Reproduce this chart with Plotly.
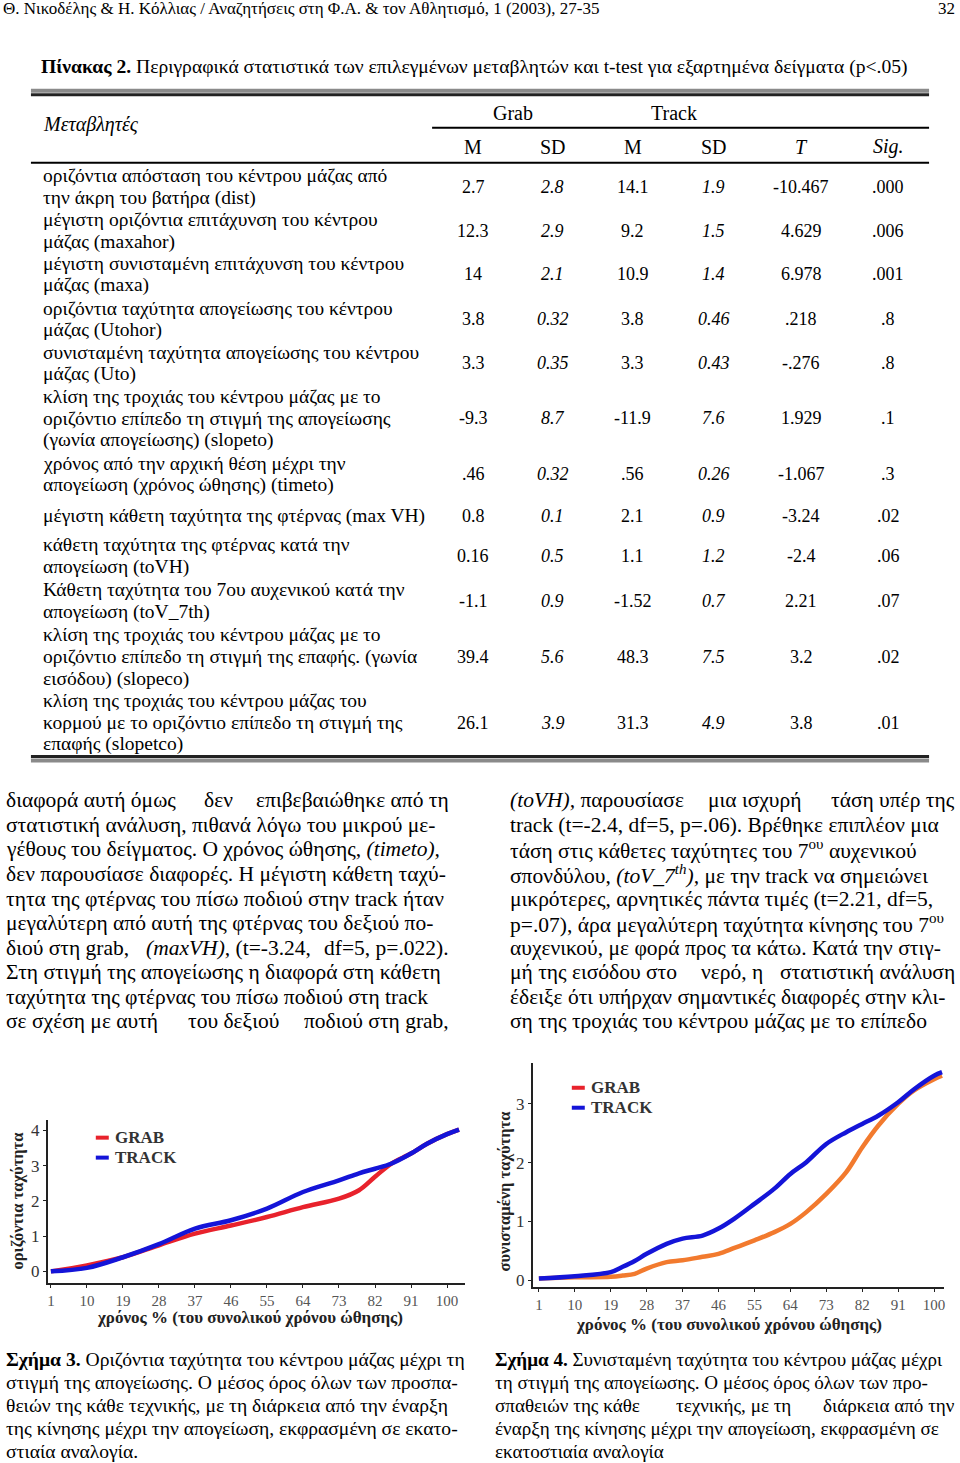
import re
import plotly.graph_objects as go

W, H = 960, 1463

# ---- data ----
pct = [1, 10, 19, 28, 37, 46, 55, 64, 73, 78, 82, 86, 91, 95, 100, 103]
hor_grab = [0.0, 0.17, 0.4, 0.74, 1.07, 1.3, 1.54, 1.82, 2.06, 2.3, 2.68, 3.05, 3.34, 3.62, 3.89, 4.02]
hor_track = [0.0, 0.1, 0.4, 0.77, 1.21, 1.45, 1.78, 2.25, 2.58, 2.78, 2.91, 3.05, 3.34, 3.62, 3.89, 4.02]

pct2 = [1, 10, 19, 22, 25, 28, 33, 37, 42, 46, 50, 55, 60, 64, 68, 73, 78, 82, 86, 91, 95, 100, 102]
res_grab = [0.03, 0.05, 0.06, 0.08, 0.11, 0.2, 0.31, 0.34, 0.4, 0.45, 0.55, 0.68, 0.82, 0.96, 1.16, 1.47,
            1.84, 2.26, 2.63, 3.0, 3.23, 3.42, 3.48]
res_track = [0.03, 0.07, 0.14, 0.23, 0.33, 0.45, 0.62, 0.71, 0.76, 0.88, 1.05, 1.3, 1.56, 1.81, 2.01, 2.32,
             2.52, 2.66, 2.8, 3.03, 3.25, 3.48, 3.54]

x_ticks = [1, 10, 19, 28, 37, 46, 55, 64, 73, 82, 91, 100]

row_labels = [
    ["οριζόντια απόσταση του κέντρου μάζας από", "την άκρη του βατήρα (dist)"],
    ["μέγιστη οριζόντια επιτάχυνση του κέντρου", "μάζας (maxahor)"],
    ["μέγιστη συνισταμένη επιτάχυνση του κέντρου", "μάζας (maxa)"],
    ["οριζόντια ταχύτητα απογείωσης του κέντρου", "μάζας (Utohor)"],
    ["συνισταμένη ταχύτητα απογείωσης του κέντρου", "μάζας (Uto)"],
    ["κλίση της τροχιάς του κέντρου μάζας με το", "οριζόντιο επίπεδο τη στιγμή της απογείωσης",
     "(γωνία απογείωσης) (slopeto)"],
    ["χρόνος από την αρχική θέση μέχρι την", "απογείωση (χρόνος ώθησης) (timeto)"],
    ["μέγιστη κάθετη ταχύτητα της φτέρνας (max VH)"],
    ["κάθετη ταχύτητα της φτέρνας κατά την", "απογείωση (toVH)"],
    ["Κάθετη ταχύτητα του 7ου αυχενικού κατά την", "απογείωση (toV_7th)"],
    ["κλίση της τροχιάς του κέντρου μάζας με το", "οριζόντιο επίπεδο τη στιγμή της επαφής. (γωνία",
     "εισόδου) (slopeco)"],
    ["κλίση της τροχιάς του κέντρου μάζας του", "κορμού με το οριζόντιο επίπεδο τη στιγμή της",
     "επαφής (slopetco)"],
]
grab_m = ["2.7", "12.3", "14", "3.8", "3.3", "-9.3", ".46", "0.8", "0.16", "-1.1", "39.4", "26.1"]
grab_sd = ["2.8", "2.9", "2.1", "0.32", "0.35", "8.7", "0.32", "0.1", "0.5", "0.9", "5.6", "3.9"]
track_m = ["14.1", "9.2", "10.9", "3.8", "3.3", "-11.9", ".56", "2.1", "1.1", "-1.52", "48.3", "31.3"]
track_sd = ["1.9", "1.5", "1.4", "0.46", "0.43", "7.6", "0.26", "0.9", "1.2", "0.7", "7.5", "4.9"]
t_vals = ["-10.467", "4.629", "6.978", ".218", "-.276", "1.929", "-1.067", "-3.24", "-2.4", "2.21", "3.2", "3.8"]
sig_vals = [".000", ".006", ".001", ".8", ".8", ".1", ".3", ".02", ".06", ".07", ".02", ".01"]

left_text = [
    "διαφορά αυτή όμως δεν επιβεβαιώθηκε από τη",
    "στατιστική ανάλυση, πιθανά λόγω του μικρού με-",
    "γέθους του δείγματος. Ο χρόνος ώθησης, <i>(timeto),</i>",
    "δεν παρουσίασε διαφορές. Η μέγιστη κάθετη ταχύ-",
    "τητα της φτέρνας του πίσω ποδιού στην track ήταν",
    "μεγαλύτερη από αυτή της φτέρνας του δεξιού πο-",
    "διού στη grab, <i>(maxVH),</i> (t=-3.24, df=5, p=.022).",
    "Στη στιγμή της απογείωσης η διαφορά στη κάθετη",
    "ταχύτητα της φτέρνας του πίσω ποδιού στη track",
    "σε σχέση με αυτή του δεξιού ποδιού στη grab,",
]
right_text = [
    "<i>(toVH),</i> παρουσίασε μια ισχυρή τάση υπέρ της",
    "track (t=-2.4, df=5, p=.06). Βρέθηκε επιπλέον μια",
    "τάση στις κάθετες ταχύτητες του 7<sup>ου</sup> αυχενικού",
    "σπονδύλου, <i>(toV_7<sup>th</sup>),</i> με την track να σημειώνει",
    "μικρότερες, αρνητικές πάντα τιμές (t=2.21, df=5,",
    "p=.07), άρα μεγαλύτερη ταχύτητα κίνησης του 7<sup>ου</sup>",
    "αυχενικού, με φορά προς τα κάτω. Κατά την στιγ-",
    "μή της εισόδου στο νερό, η στατιστική ανάλυση",
    "έδειξε ότι υπήρχαν σημαντικές διαφορές στην κλι-",
    "ση της τροχιάς του κέντρου μάζας με το επίπεδο",
]
cap3 = [
    "<b>Σχήμα 3.</b> Οριζόντια ταχύτητα του κέντρου μάζας μέχρι τη",
    "στιγμή της απογείωσης. Ο μέσος όρος όλων των προσπα-",
    "θειών της κάθε τεχνικής, με τη διάρκεια από την έναρξη",
    "της κίνησης μέχρι την απογείωση, εκφρασμένη σε εκατο-",
    "στιαία αναλογία.",
]
cap4 = [
    "<b>Σχήμα 4.</b> Συνισταμένη ταχύτητα του κέντρου μάζας μέχρι",
    "τη στιγμή της απογείωσης. Ο μέσος όρος όλων των προ-",
    "σπαθειών της κάθε τεχνικής, με τη διάρκεια από την",
    "έναρξη της κίνησης μέχρι την απογείωση, εκφρασμένη σε",
    "εκατοστιαία αναλογία",
]

SERIF = "Liberation Serif, Times New Roman, serif"
BODY = "Liberation Serif, serif"

fig = go.Figure()

RED = "#e8222c"
BLUE = "#1414d8"
ORANGE = "#f27a2e"

fig.add_trace(go.Scatter(x=pct, y=hor_grab, mode="lines", line=dict(color=RED, width=4.5, shape="spline"),
                         xaxis="x", yaxis="y", showlegend=False))
fig.add_trace(go.Scatter(x=pct, y=hor_track, mode="lines", line=dict(color=BLUE, width=4.5, shape="spline"),
                         xaxis="x", yaxis="y", showlegend=False))
fig.add_trace(go.Scatter(x=pct2, y=res_grab, mode="lines", line=dict(color=ORANGE, width=4.5, shape="spline"),
                         xaxis="x2", yaxis="y2", showlegend=False))
fig.add_trace(go.Scatter(x=pct2, y=res_track, mode="lines", line=dict(color=BLUE, width=4.5, shape="spline"),
                         xaxis="x2", yaxis="y2", showlegend=False))


def px(x):
    return x / W


def py(y):
    return 1 - y / H


def txt(x, y, s, size=18, anchor="left", family=BODY, color="black", angle=0):
    fig.add_annotation(x=px(x), y=py(y), xref="paper", yref="paper", text=s, showarrow=False,
                       xanchor=anchor, yanchor="middle", align=anchor, textangle=angle,
                       font=dict(size=size, family=family, color=color))


def est_width(s, size):
    w = 0.0
    for part, bold in [(p, i % 2 == 1) for i, p in enumerate(re.split(r"</?b>", s))]:
        plain = re.sub(r"<[^>]+>", "", part)
        pw = 0.0
        for ch in plain:
            if ch == " ":
                pw += 0.25
            elif ch in ".,:;'!":
                pw += 0.25
            elif ch in "()-_[]/":
                pw += 0.33
            elif ch in "ιίϊlijtfr":
                pw += 0.29
            elif ch in "μωώφψmwMW":
                pw += 0.68
            elif ch.isupper():
                pw += 0.66
            elif ch.isdigit():
                pw += 0.5
            else:
                pw += 0.48
        w += pw * (1.1 if bold else 1.0)
    return w * size * 1.03


def balanced(s):
    return all(s.count("<%s>" % t) == s.count("</%s>" % t) for t in ("b", "i", "sup"))


def justified(x0, x1, y, s, size, family=BODY):
    # approximate justification: three word groups spread across the column
    words = s.split(" ")
    n = len(words)
    best = None
    for i in range(1, n - 1):
        for j in range(i + 1, n):
            a, b, c = " ".join(words[:i]), " ".join(words[i:j]), " ".join(words[j:])
            if not (balanced(a) and balanced(b) and balanced(c)):
                continue
            wa, wb, wc = est_width(a, size), est_width(b, size), est_width(c, size)
            cost = abs(wa - wc) + 0.5 * abs(wb - (wa + wc) / 2)
            if best is None or cost < best[0]:
                best = (cost, a, b, c, wa, wb, wc)
    if best is None:
        txt(x0, y, s, size, family=family)
        return
    _, a, b, c, wa, wb, wc = best
    gap = (x1 - x0 - wa - wb - wc) / 2
    if gap < 11:
        # too little slack to spread safely
        txt(x0, y, s, size, family=family)
        return
    mid = x0 + (x1 - x0 + wa - wc) / 2
    txt(x0, y, a, size, family=family)
    txt(mid, y, b, size, "center", family=family)
    txt(x1, y, c, size, "right", family=family)


def hline(x0, x1, y, width=2, color="black"):
    fig.add_shape(type="line", xref="paper", yref="paper", x0=px(x0), x1=px(x1), y0=py(y), y1=py(y),
                  line=dict(color=color, width=width))


# page header
txt(0, 9, "Θ. Νικοδέλης & Η. Κόλλιας / Αναζητήσεις στη Φ.Α. & τον Αθλητισμό, 1 (2003), 27-35", 17, family=SERIF)
txt(958, 9, "32", 17, anchor="right", family=SERIF)
txt(38, 67, "<b>Πίνακας 2.</b> Περιγραφικά στατιστικά των επιλεγμένων μεταβλητών και t-test για "
            "εξαρτημένα δείγματα (p<.05)", 19.6, family=SERIF)

# table rules
hline(30, 930, 91, 4, "#8a8a8a")
hline(30, 930, 95, 3, "#222")
hline(432, 930, 128, 2)
hline(30, 930, 163, 2)
hline(30, 930, 758, 3, "#222")
hline(30, 930, 762, 4, "#8a8a8a")

txt(40, 125, "<i>Μεταβλητές</i>", 20, family=SERIF)
txt(513, 113, "Grab", 20, "center", SERIF)
txt(674, 113, "Track", 20, "center", SERIF)
col_x = [473, 553, 633, 714, 802, 889]
for cx, h in zip(col_x, ["M", "SD", "M", "SD", "<i>T</i>", "<i>Sig.</i>"]):
    txt(cx, 147, h, 20, "center", SERIF)

row_top = [176, 220, 264, 309, 353, 397, 464, 517, 546, 591, 636, 702]
for i, lines in enumerate(row_labels):
    ys = [row_top[i] + 22 * k for k in range(len(lines))]
    for yy, ln in zip(ys, lines):
        txt(40, yy, ln, 19.5)
    ym = sum(ys) / len(ys)
    vals = [grab_m[i], "<i>" + grab_sd[i] + "</i>", track_m[i], "<i>" + track_sd[i] + "</i>",
            t_vals[i], sig_vals[i]]
    for cx, v in zip(col_x, vals):
        txt(cx, ym, v, 18, "center")

# body text (justified columns)
for k, ln in enumerate(left_text):
    justified(3, 451, 802 + 24.6 * k, ln, 21.5)
for k, ln in enumerate(right_text):
    if k == len(right_text) - 1:
        txt(508, 802 + 24.6 * k, ln, 21.5)
    else:
        justified(508, 958, 802 + 24.6 * k, ln, 21.5)

# captions
for k, ln in enumerate(cap3):
    if k < len(cap3) - 1:
        justified(3, 470, 1362 + 23 * k, ln, 19.6, SERIF)
    else:
        txt(3, 1362 + 23 * k, ln, 19.6, family=SERIF)
for k, ln in enumerate(cap4):
    if k < len(cap4) - 1:
        justified(493, 958, 1362 + 23 * k, ln, 19.1, SERIF)
    else:
        txt(493, 1362 + 23 * k, ln, 19.1, family=SERIF)

# chart legends (drawn as text + short rule)
for (lx, ly, col, lab) in [(95, 1140, RED, "GRAB"), (95, 1160, BLUE, "TRACK"),
                           (572, 1090, RED, "GRAB"), (572, 1110, BLUE, "TRACK")]:
    fig.add_shape(type="line", xref="paper", yref="paper", x0=px(lx), x1=px(lx + 13), y0=py(ly), y1=py(ly),
                  line=dict(color=col, width=4))
    txt(lx + 17, ly, "<b>" + lab + "</b>", 17, family=SERIF, color="#333")

# axis titles
txt(250, 1320, "<b>χρόνος % (του συνολικού χρόνου ώθησης)</b>", 17, "center", SERIF, "#222")
txt(730, 1327, "<b>χρόνος % (του συνολικού χρόνου ώθησης)</b>", 17, "center", SERIF, "#222")
txt(17, 1203, "<b>οριζόντια ταχύτητα</b>", 16.5, "center", SERIF, "#222", -90)
txt(505, 1193, "<b>συνισταμένη ταχύτητα</b>", 16.5, "center", SERIF, "#222", -90)

axis_common = dict(showgrid=False, zeroline=False, showline=True, linecolor="#222", linewidth=2,
                   ticks="outside", ticklen=3, tickcolor="#222")
xfont = dict(size=15, family=SERIF, color="#555")
yfont = dict(size=17, family=SERIF, color="#333")

fig.update_layout(
    width=W, height=H, margin=dict(l=0, r=0, t=0, b=0),
    paper_bgcolor="white", plot_bgcolor="white", showlegend=False,
    xaxis=dict(domain=[px(47), px(465)], range=[0.25, 104.5], tickvals=x_ticks, tickfont=xfont,
               anchor="y", **axis_common),
    yaxis=dict(domain=[py(1286), py(1122)], range=[-0.34, 4.3], tickvals=[0, 1, 2, 3, 4], tickfont=yfont,
               anchor="x", **axis_common),
    xaxis2=dict(domain=[px(533), px(945)], range=[-0.5, 102.5], tickvals=x_ticks, tickfont=xfont,
                anchor="y2", **axis_common),
    yaxis2=dict(domain=[py(1290), py(1065)], range=[-0.12, 3.7], tickvals=[0, 1, 2, 3], tickfont=yfont,
                anchor="x2", **axis_common),
)

fig.write_html("out.html", config={"displayModeBar": False},
               post_script="document.body.style.margin='0';document.body.style.overflow='hidden';")
